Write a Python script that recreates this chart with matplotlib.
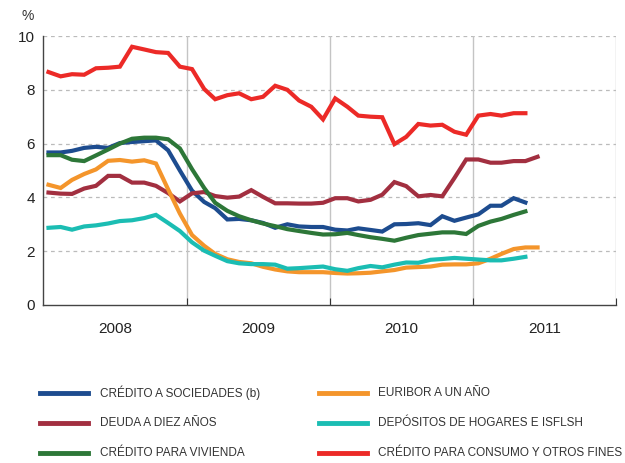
import numpy as np
import pandas as pd
import matplotlib
matplotlib.use("Agg")
import matplotlib.pyplot as plt
from matplotlib.lines import Line2D

# monthly series, Jan 2008 onwards (%)
sociedades = [5.67, 5.67, 5.73, 5.84, 5.88, 5.84, 6.02, 6.06, 6.09, 6.12,
              5.75, 5.0, 4.25, 3.83, 3.6, 3.18, 3.2, 3.15, 3.05, 2.87,
              3.0, 2.92, 2.9, 2.9, 2.8, 2.77, 2.85, 2.79, 2.73, 3.0,
              3.01, 3.04, 2.97, 3.3, 3.13, 3.25, 3.37, 3.69, 3.69, 3.97,
              3.81]
deuda = [4.18, 4.14, 4.13, 4.33, 4.43, 4.8, 4.8, 4.55, 4.55, 4.43,
         4.16, 3.85, 4.15, 4.2, 4.05, 3.99, 4.03, 4.27, 4.02, 3.78,
         3.78, 3.77, 3.77, 3.8, 3.97, 3.97, 3.85, 3.91, 4.1, 4.57,
         4.42, 4.04, 4.09, 4.04, 4.72, 5.41, 5.41, 5.29, 5.29, 5.35,
         5.35, 5.51]
vivienda = [5.57, 5.57, 5.4, 5.35, 5.56, 5.78, 6.0, 6.18, 6.22, 6.22,
            6.16, 5.82, 5.05, 4.35, 3.8, 3.5, 3.3, 3.15, 3.03, 2.93,
            2.82, 2.75, 2.68, 2.62, 2.63, 2.68, 2.6, 2.52, 2.46, 2.39,
            2.5, 2.6, 2.65, 2.7, 2.7, 2.64, 2.94, 3.1, 3.2, 3.35,
            3.48]
euribor = [4.47, 4.35, 4.65, 4.87, 5.04, 5.36, 5.39, 5.33, 5.38, 5.26,
           4.3, 3.4, 2.6, 2.2, 1.9, 1.7, 1.6, 1.55, 1.42, 1.32,
           1.25, 1.22, 1.22, 1.22, 1.19, 1.17, 1.18, 1.2, 1.25, 1.3,
           1.39, 1.41, 1.43, 1.5, 1.51, 1.51, 1.55, 1.72, 1.9, 2.08,
           2.14, 2.14]
depositos = [2.87, 2.9, 2.8, 2.92, 2.96, 3.03, 3.12, 3.15, 3.23, 3.35,
             3.05, 2.75, 2.33, 2.02, 1.83, 1.63, 1.55, 1.52, 1.52, 1.5,
             1.35, 1.37, 1.4, 1.43, 1.33, 1.27, 1.37, 1.45, 1.4, 1.5,
             1.58, 1.57, 1.68, 1.71, 1.75, 1.72, 1.69, 1.66, 1.66, 1.72,
             1.79]
consumo = [8.66, 8.5, 8.58, 8.56, 8.8, 8.82, 8.86, 9.6, 9.5, 9.4,
           9.37, 8.86, 8.77, 8.03, 7.65, 7.8, 7.87, 7.65, 7.74, 8.15,
           8.0, 7.6, 7.37, 6.9, 7.68, 7.37, 7.04, 7.0, 6.98, 5.98,
           6.25, 6.73, 6.67, 6.7, 6.44, 6.33, 7.04, 7.1, 7.04, 7.13,
           7.13]

labels = ["CRÉDITO A SOCIEDADES (b)", "DEUDA A DIEZ AÑOS", "CRÉDITO PARA VIVIENDA",
          "EURIBOR A UN AÑO", "DEPÓSITOS DE HOGARES E ISFLSH",
          "CRÉDITO PARA CONSUMO Y OTROS FINES"]
colors = ["#1d4c8f", "#a22f40", "#2d7738", "#f4952b", "#1bbdb3", "#ec2a27"]
years = [2008, 2009, 2010, 2011]

plt.rcParams['font.family'] = ['Liberation Sans', 'DejaVu Sans']

W, H = 625, 463
fig = plt.figure(figsize=(W / 100, H / 100), dpi=100)
ax = fig.add_axes([43 / W, 1 - 305 / H, 573 / W, 269 / H])

series = [sociedades, deuda, vivienda, euribor, depositos, consumo]
for vals, col in zip(series, colors):
    dates = pd.date_range("2008-01-01", periods=len(vals), freq="MS") + pd.Timedelta(days=14)
    ax.plot(dates, vals, color=col, lw=3.0, solid_joinstyle="miter")

ax.set_ylim(0, 10)
ax.set_xlim(pd.Timestamp("2008-01-01"), pd.Timestamp("2012-01-01"))
ax.set_yticks([0, 2, 4, 6, 8, 10])
ax.tick_params(axis="y", length=0, labelsize=11, pad=6, colors="#222222")

# year boundaries as major ticks, labels centred on the year
ax.set_xticks([pd.Timestamp(f"{y}-01-01") for y in years[1:]] + [pd.Timestamp("2012-01-01")])
ax.set_xticklabels([])
ax.set_xticks([pd.Timestamp(f"{y}-07-02") for y in years], minor=True)
ax.set_xticklabels([str(y) for y in years], minor=True)
ax.tick_params(axis="x", which="major", direction="in", length=5, color="#333333")
ax.tick_params(axis="x", which="minor", length=0, labelsize=11, pad=12, colors="#222222")

for y in [2, 4, 6, 8, 10]:
    ax.axhline(y, color="#bbbbbb", lw=0.9, ls=(0, (3, 3)), zorder=0)
for y in years[1:] + [2012]:
    ax.axvline(pd.Timestamp(f"{y}-01-01"), color="#c4c4c4", lw=1.0, zorder=0)

for s in ["top", "right"]:
    ax.spines[s].set_visible(False)
for s in ["left", "bottom"]:
    ax.spines[s].set_color("#444444")
    ax.spines[s].set_linewidth(1.0)

fig.text(22 / W, 1 - 16 / H, "%", fontsize=10, color="#333333", ha="left", va="center")

# legend: two columns of three rows, drawn by hand so the rows line up
col_x = [(40, 100), (319, 378)]
row_y = [393, 423, 453]
for j, (lab, col) in enumerate(zip(labels, colors)):
    hx, tx = col_x[j // 3]
    yy = 1 - row_y[j % 3] / H
    fig.add_artist(Line2D([hx / W, (hx + 48) / W], [yy, yy], color=col, lw=3.5,
                          transform=fig.transFigure))
    fig.text(tx / W, yy, lab, fontsize=8.5, color="#333333", ha="left", va="center")

fig.savefig("out.png", dpi=100)
